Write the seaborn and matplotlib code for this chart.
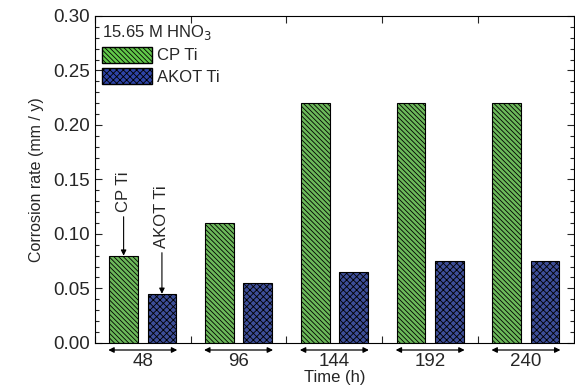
import matplotlib
matplotlib.use("Agg")
import matplotlib.pyplot as plt
import pandas as pd
import seaborn as sns
from matplotlib.ticker import MultipleLocator
from matplotlib.patches import Patch

# data
times = ["48", "96", "144", "192", "240"]
cp_ti = [0.08, 0.11, 0.22, 0.22, 0.22]
akot_ti = [0.045, 0.055, 0.065, 0.075, 0.075]
materials = ["CP Ti", "AKOT Ti"]

green = "#62c94a"
blue = "#2e44a8"

df = pd.DataFrame({
    "Time": times * 2,
    "Rate": cp_ti + akot_ti,
    "Material": [materials[0]] * len(times) + [materials[1]] * len(times),
})

sns.set_style("ticks")
plt.rcParams["font.family"] = ["Liberation Sans", "DejaVu Sans"]
plt.rcParams["hatch.linewidth"] = 0.6

fig = plt.figure(figsize=(5.75, 3.9), dpi=100)
ax = fig.add_axes([0.165, 0.121, 0.833, 0.838])

sns.barplot(data=df, x="Time", y="Rate", hue="Material", order=times,
            hue_order=materials, palette=[green, blue], width=0.8, gap=0.25,
            edgecolor="black", linewidth=0.8, legend=False, ax=ax)

# hatching per series
hatches = {0: "\\" * 7, 1: "x" * 5}
for i, cont in enumerate(ax.containers):
    for bar in cont:
        bar.set_hatch(hatches[i])

ax.set_ylim(0, 0.30)
ax.set_xlim(-0.5, len(times) - 0.5)
ax.yaxis.set_major_locator(MultipleLocator(0.05))
ax.yaxis.set_minor_locator(MultipleLocator(0.01))
ax.yaxis.set_major_formatter(matplotlib.ticker.FormatStrFormatter("%.2f"))

# major x ticks at group boundaries, labels at group centres
ax.set_xticks([i - 0.5 for i in range(len(times) + 1)])
ax.set_xticklabels([])
ax.set_xticks(range(len(times)), minor=True)
ax.set_xticklabels(times, minor=True)
ax.tick_params(axis="x", which="minor", length=0, pad=7, labelsize=13.5)
ax.tick_params(axis="x", which="major", direction="in", length=5, width=0.8, top=True)
ax.tick_params(axis="y", which="major", direction="in", length=5, width=0.8,
               right=True, labelsize=13.5)
ax.tick_params(axis="y", which="minor", direction="in", length=3, width=0.8, right=True)
for s in ax.spines.values():
    s.set_linewidth(0.8)
    s.set_color("black")

# double-headed arrows under each group
for i in range(len(times)):
    ax.annotate("", xy=(i - 0.36, -0.022), xytext=(i + 0.36, -0.022),
                xycoords=("data", "axes fraction"), textcoords=("data", "axes fraction"),
                arrowprops=dict(arrowstyle="<|-|>", color="black", lw=0.9,
                                mutation_scale=8, shrinkA=0, shrinkB=0),
                annotation_clip=False)

ax.set_xlabel("Time (h)", fontsize=12, labelpad=0)
ax.set_ylabel("Corrosion rate (mm / y)", fontsize=11.5, labelpad=7)

# arrow labels on the first group
ax.annotate("CP Ti", xy=(-0.2, cp_ti[0]), xytext=(-0.2, 0.12),
            rotation=90, ha="center", va="bottom", fontsize=12,
            arrowprops=dict(arrowstyle="-|>", color="black", lw=0.8,
                            mutation_scale=8, shrinkA=1, shrinkB=0))
ax.annotate("AKOT Ti", xy=(0.2, akot_ti[0]), xytext=(0.2, 0.087),
            rotation=90, ha="center", va="bottom", fontsize=12,
            arrowprops=dict(arrowstyle="-|>", color="black", lw=0.8,
                            mutation_scale=8, shrinkA=1, shrinkB=0))

handles = [Patch(facecolor=green, edgecolor="black", hatch=hatches[0], label=materials[0]),
           Patch(facecolor=blue, edgecolor="black", hatch=hatches[1], label=materials[1])]
leg = ax.legend(handles=handles, title="15.65 M HNO$_3$", loc="upper left",
                frameon=False, fontsize=12, title_fontsize=12,
                handlelength=3.0, handleheight=1.1, handletextpad=0.3,
                borderaxespad=0.2, borderpad=0.2, labelspacing=0.3)
leg._legend_box.align = "left"

fig.savefig("out.png", dpi=100)
